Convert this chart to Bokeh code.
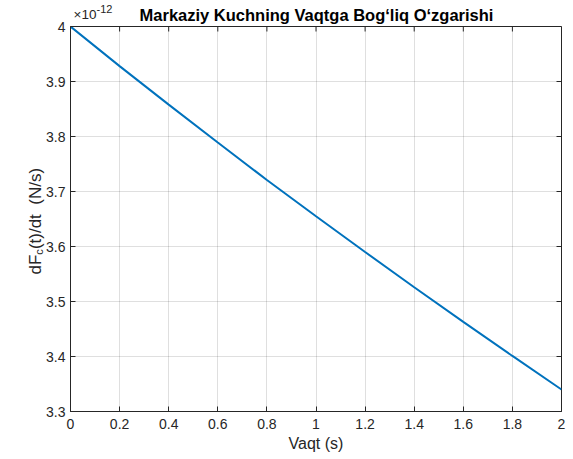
from math import pi
from bokeh.plotting import figure
from bokeh.models import Range1d, FixedTicker, Label
from bokeh.embed import file_html
from bokeh.resources import INLINE

# ---- data ----
time_s = [0.0, 0.2, 0.4, 0.6, 0.8, 1.0, 1.2, 1.4, 1.6, 1.8, 2.0]
dFc_dt_e12 = [4.000, 3.928, 3.858, 3.789, 3.721, 3.655, 3.590, 3.526, 3.463, 3.401, 3.340]

x_ticks = [0.0, 0.2, 0.4, 0.6, 0.8, 1.0, 1.2, 1.4, 1.6, 1.8, 2.0]
x_tick_labels = ["0", "0.2", "0.4", "0.6", "0.8", "1", "1.2", "1.4", "1.6", "1.8", "2"]
y_ticks = [3.3, 3.4, 3.5, 3.6, 3.7, 3.8, 3.9, 4.0]
y_tick_labels = ["3.3", "3.4", "3.5", "3.6", "3.7", "3.8", "3.9", "4"]

title_text = "Markaziy Kuchning Vaqtga Bog\u2018liq O\u2018zgarishi"
x_label_text = "Vaqt (s)"
y_label_parts = ["dF", "c", "(t)/dt\u00a0\u00a0(N/s)"]
exp_parts = ["\u00d710", "-12"]

# ---- layout ----
# side-panel text labels need room; the extra room (KL, KT) is pushed off-page
KL, KT = 12, 30
W, H = 573 + KL, 459 + KT
BL, BR, BT, BB = 70 + KL, 12, 26 + KT, 48
X0, X1, Y0, Y1 = 0.0, 2.0, 3.3, 4.0
FONT = "Liberation Sans"
AX = "#262626"
FW, FH = W - BL - BR, H - BT - BB
TICK = 5  # inward tick length, px

p = figure(width=W, height=H, output_backend="svg", toolbar_location=None,
           x_range=Range1d(X0, X1), y_range=Range1d(Y0, Y1), title=None,
           min_border_left=BL, min_border_right=BR,
           min_border_top=BT, min_border_bottom=BB,
           background_fill_color="white", border_fill_color="white")
p.styles = {"margin-left": f"-{KL}px", "margin-top": f"-{KT}px"}
p.outline_line_color = AX
p.outline_line_width = 1

xt = FixedTicker(ticks=x_ticks)
yt = FixedTicker(ticks=y_ticks)

for ax, tk, labels, so in ((p.xaxis[0], xt, x_tick_labels, 7), (p.yaxis[0], yt, y_tick_labels, 5)):
    ax.ticker = tk
    ax.major_label_overrides = {t: l for t, l in zip(tk.ticks, labels)}
    ax.axis_line_color = AX
    ax.major_tick_line_color = AX
    ax.major_tick_in = TICK
    ax.major_tick_out = 0
    ax.minor_tick_in = 0
    ax.minor_tick_out = 0
    ax.major_label_text_font = FONT
    ax.major_label_text_font_size = "14px"
    ax.major_label_text_color = AX
    ax.major_label_standoff = so

p.xaxis[0].axis_label = x_label_text
p.xaxis[0].axis_label_text_font = FONT
p.xaxis[0].axis_label_text_font_size = "16px"
p.xaxis[0].axis_label_text_font_style = "normal"
p.xaxis[0].axis_label_text_color = AX
p.xaxis[0].axis_label_standoff = 3

for g, t in ((p.xgrid[0], xt), (p.ygrid[0], yt)):
    g.ticker = t
    g.grid_line_color = AX
    g.grid_line_alpha = 0.15
    g.grid_line_width = 1

# inward ticks on the top and right edges (from the tick arrays)
dx_px = (X1 - X0) / FW
dy_px = (Y1 - Y0) / FH
p.segment(x0=x_ticks, y0=[Y1] * len(x_ticks), x1=x_ticks,
          y1=[Y1 - TICK * dy_px] * len(x_ticks), line_color=AX, line_width=1)
p.segment(x0=[X1] * len(y_ticks), y0=y_ticks, x1=[X1 - TICK * dx_px] * len(y_ticks),
          y1=y_ticks, line_color=AX, line_width=1)

p.line(time_s, dFc_dt_e12, line_color="#0072BD", line_width=2)


def page_label(sx, sy, text, size, place, angle=0.0, style="normal",
               color=AX, align="left"):
    # sx, sy: position in page pixels (top-left origin)
    lab = Label(x=sx + KL, y=sy + KT, x_units="canvas", y_units="canvas", text=text,
                text_font=FONT, text_font_size=size, text_font_style=style,
                text_color=color, angle=angle, text_align=align,
                text_baseline="alphabetic", level="overlay")
    p.add_layout(lab, place)


# title
page_label(316, 14, title_text, "16.5px", "above", style="bold",
           color="black", align="center")

# exponent
page_label(73, 14, exp_parts[0], "13.5px", "above")
page_label(96, 8, exp_parts[1], "11px", "above")

# y label (rotated, with subscript)
page_label(35, 274, y_label_parts[0], "17px", "left", pi / 2)
page_label(38, 254.2, y_label_parts[1], "11px", "left", pi / 2)
page_label(35, 248.6, y_label_parts[2], "17px", "left", pi / 2)

open("out.html", "w").write(file_html(p, INLINE))
